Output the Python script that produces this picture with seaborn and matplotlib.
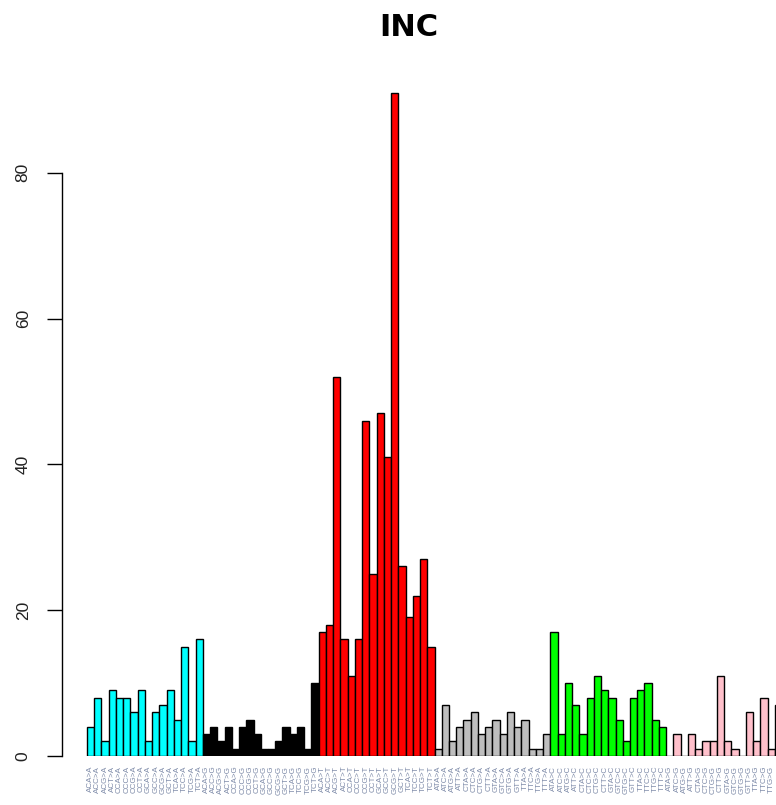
import matplotlib
matplotlib.use("Agg")
import matplotlib.pyplot as plt
import seaborn as sns
import pandas as pd

# ---- data ----
mutation_types = ["C>A", "C>G", "C>T", "T>A", "T>C", "T>G"]
type_colors = ["#00FFFF", "#000000", "#FF0000", "#BEBEBE", "#00FF00", "#FFC0CB"]
bases = ["A", "C", "G", "T"]

counts_CA = [4, 8, 2, 9, 8, 8, 6, 9, 2, 6, 7, 9, 5, 15, 2, 16]
counts_CG = [3, 4, 2, 4, 1, 4, 5, 3, 1, 1, 2, 4, 3, 4, 1, 10]
counts_CT = [17, 18, 52, 16, 11, 16, 46, 25, 47, 41, 91, 26, 19, 22, 27, 15]
counts_TA = [1, 7, 2, 4, 5, 6, 3, 4, 5, 3, 6, 4, 5, 1, 1, 3]
counts_TC = [17, 3, 10, 7, 3, 8, 11, 9, 8, 5, 2, 8, 9, 10, 5, 4]
counts_TG = [0, 3, 0, 3, 1, 2, 2, 11, 2, 1, 0, 6, 2, 8, 1, 7]
all_counts = [counts_CA, counts_CG, counts_CT, counts_TA, counts_TC, counts_TG]

labels, groups, values = [], [], []
for mt, cnts in zip(mutation_types, all_counts):
    ref, alt = mt.split(">")
    i = 0
    for b5 in bases:
        for b3 in bases:
            labels.append(f"{b5}{ref}{b3}>{alt}")
            groups.append(mt)
            values.append(cnts[i])
            i += 1

df = pd.DataFrame({"context": labels, "type": groups, "count": values})

# ---- figure ----
W, H, DPI = 776, 805, 100
fig = plt.figure(figsize=(W / DPI, H / DPI), dpi=DPI)
sns.set_style("white")
plt.rcParams["font.family"] = ["Liberation Sans", "DejaVu Sans"]

ymax = 95
px_per_unit = 7.29
ax_bottom_px = 756
ax_top_px = ax_bottom_px - ymax * px_per_unit
ax = fig.add_axes([62 / W, (H - ax_bottom_px) / H, (W - 62) / W,
                   (ax_bottom_px - ax_top_px) / H])

sns.barplot(data=df, x="context", y="count", hue="type",
            palette=dict(zip(mutation_types, type_colors)),
            dodge=False, width=1.0, saturation=1, edgecolor="black",
            linewidth=1.0, legend=False, ax=ax)

bar_px = 7.24
ax.set_xlim(-0.5 - 25 / bar_px, -0.5 + (W - 87) / bar_px)
ax.set_ylim(0, ymax)

for s in ["top", "right", "bottom"]:
    ax.spines[s].set_visible(False)
ax.spines["left"].set_bounds(0, 80)
ax.spines["left"].set_linewidth(1.0)
ax.spines["left"].set_color("black")

ax.set_yticks([0, 20, 40, 60, 80])
ax.set_yticklabels(["0", "20", "40", "60", "80"], rotation=90, va="center",
                   fontsize=12.5, color="#222222")
ax.tick_params(axis="y", length=10.5, width=1.0, pad=12, left=True,
               color="black")
ax.tick_params(axis="x", length=0, pad=7)
for t in ax.get_xticklabels():
    t.set_rotation(90)
    t.set_fontsize(5.8)
    t.set_color("#7d8aa8")
    t.set_va("top")
ax.set_xlabel("")
ax.set_ylabel("")

fig.text(409 / W, 1 - 27 / H, "INC", ha="center", va="center",
         fontsize=22, fontweight="bold", color="black",
         family=["DejaVu Sans"])

fig.savefig("out.png", dpi=DPI)
